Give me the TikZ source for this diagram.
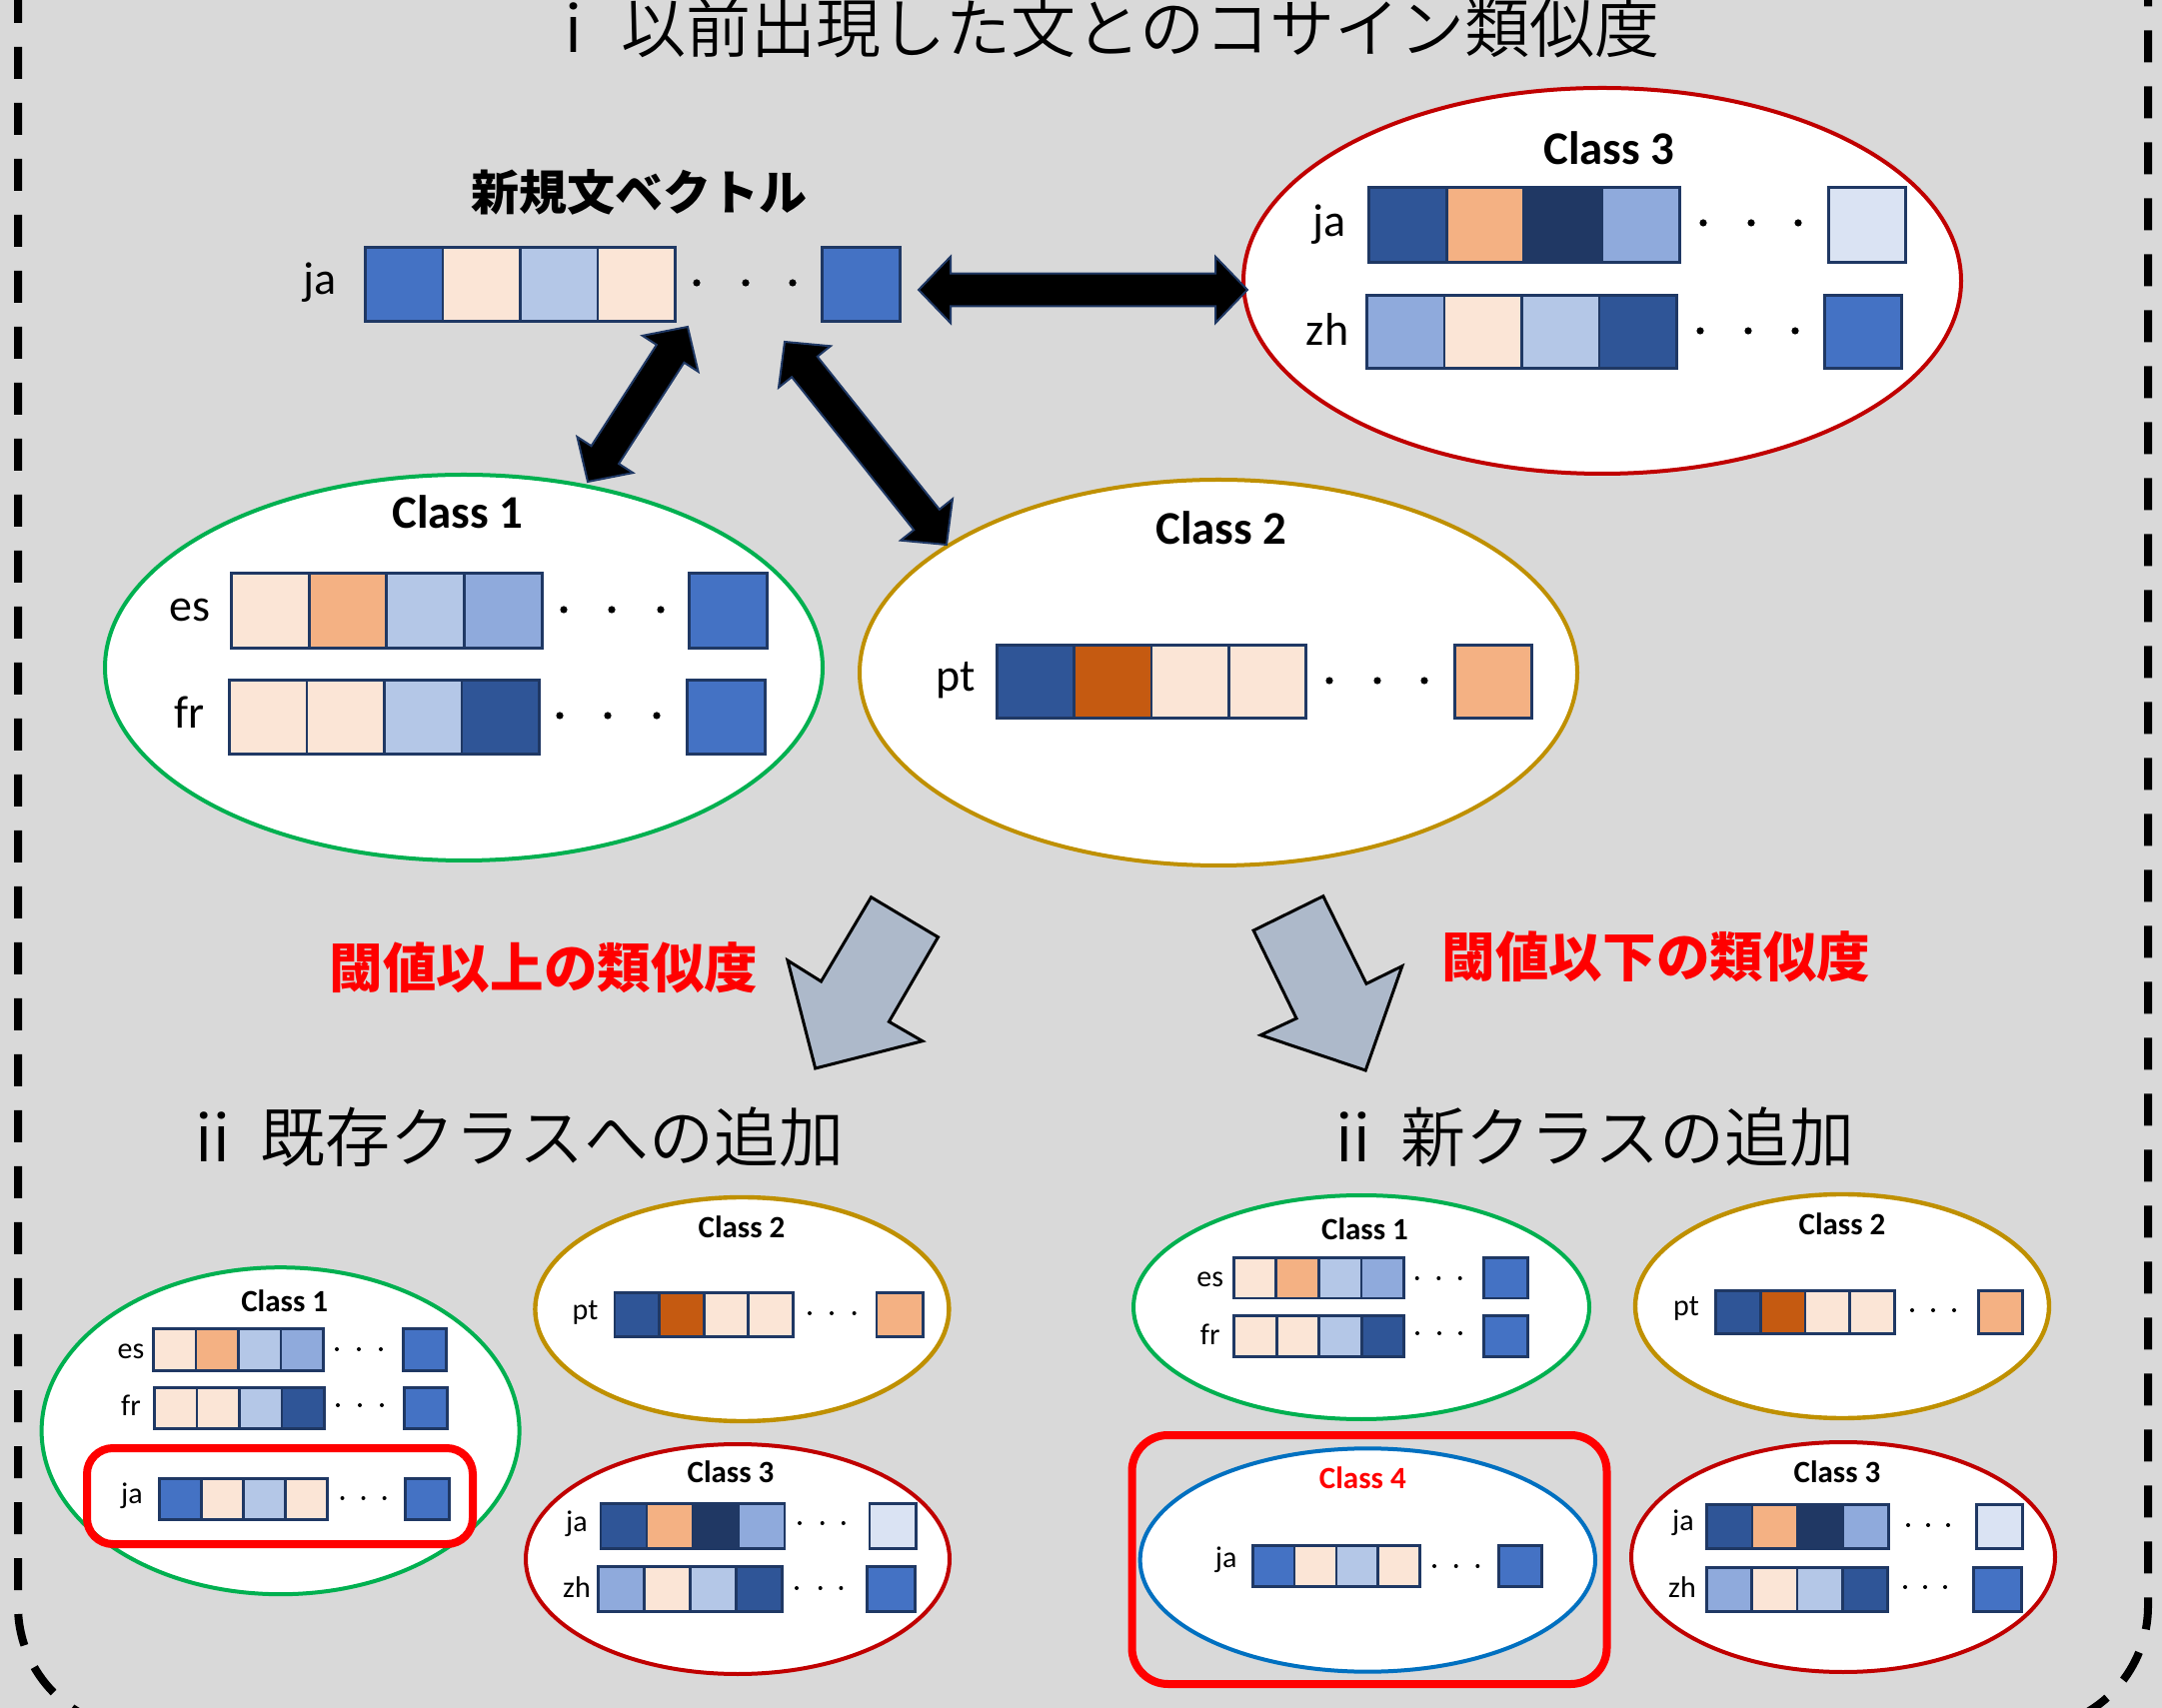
\documentclass[tikz,border=0pt]{standalone}
\usepackage{fontspec}
\setmainfont{Carlito}
\newfontfamily\jp{Noto Sans CJK JP}
\newfontfamily\jpl{Noto Sans CJK JP DemiLight}
\usetikzlibrary{calc,shapes.geometric}
\definecolor{bg}{HTML}{D9D9D9}
\definecolor{cellline}{HTML}{1F3864}
\definecolor{cpeach}{HTML}{FBE5D6}
\definecolor{corange}{HTML}{F4B183}
\definecolor{clblue}{HTML}{B4C7E7}
\definecolor{cmblue}{HTML}{8FAADC}
\definecolor{cblue}{HTML}{4472C4}
\definecolor{cdblue}{HTML}{2F5597}
\definecolor{cnavy}{HTML}{203864}
\definecolor{cpale}{HTML}{DAE3F3}
\definecolor{cbrown}{HTML}{C55A11}
\definecolor{cgreen}{HTML}{00B050}
\definecolor{cgold}{HTML}{BF9000}
\definecolor{cdred}{HTML}{C00000}
\definecolor{cblue4}{HTML}{0070C0}
\definecolor{cred}{HTML}{FF0000}
\definecolor{cgrayarrow}{HTML}{ADB9CA}
\definecolor{arrowline}{HTML}{1F3864}
\newcommand\arrhl{8pt}
\newcommand\arrhw{8.3pt}
\newcommand\arrsw{4.1pt}
\newcommand\dblarrow[2]{%
  \coordinate (h1) at ($(#1)!\arrhl!(#2)$);
  \coordinate (h2) at ($(#2)!\arrhl!(#1)$);
  \filldraw[fill=black, draw=arrowline, line width=0.5pt, line join=miter]
   (#1) -- ($(h1)!\arrhw!90:(#2)$) -- ($(h1)!\arrsw!90:(#2)$) -- ($(h2)!\arrsw!-90:(#1)$)
   -- ($(h2)!\arrhw!-90:(#1)$) -- (#2) -- ($(h2)!\arrhw!90:(#1)$) -- ($(h2)!\arrsw!90:(#1)$)
   -- ($(h1)!\arrsw!-90:(#2)$) -- ($(h1)!\arrhw!-90:(#2)$) -- cycle;}
\newcommand\vcells[6]{%
  \foreach \clr [count=\i] in {#6}{%
    \node[cell, fill=\clr, minimum width={#4*0.25pt}, minimum height={#5*0.25pt}, anchor=north west] (#1-\i) at ({#2+(\i-1)*#4},#3) {};
  }}
\newcommand\vlast[6]{\node[cell, fill=#6, minimum width={#4*0.25pt}, minimum height={#5*0.25pt}, anchor=north west] (#1) at (#2,#3) {};}
\newcommand\tdots[5]{\foreach \xx in {#1,#2,#3} {\fill (\xx,#4) circle[radius=#5pt];}}
\tikzset{
  cell/.style={draw=cellline, line width=0.7pt, inner sep=0pt, rectangle},
  cls/.style={ellipse, draw, fill=white, line width=1pt, inner sep=0pt},
  lab/.style={font=\fontsize{11.5}{13}\selectfont, inner sep=0pt},
  slab/.style={font=\fontsize{7.5}{9}\selectfont, inner sep=0pt},
  ttl/.style={font=\bfseries\fontsize{11.7}{13}\selectfont, inner sep=0pt},
  sttl/.style={font=\bfseries\fontsize{7.75}{9}\selectfont, inner sep=0pt},
  head/.style={font=\jpl\fontsize{16.25}{19}\selectfont, inner sep=0pt},
  redlab/.style={font=\jp\bfseries\fontsize{13.4}{16}\selectfont, text=cred, inner sep=0pt},
  bigarrow/.style={fill=cgrayarrow, draw=black, line width=0.75pt, line join=miter},
  redbox/.style={draw=cred, line width=2pt},
}
\begin{document}
\begin{tikzpicture}[x=0.25pt, y=-0.25pt]
\useasboundingbox (0,0) rectangle (2163,1709);
\fill[bg] (0,0) rectangle (2163,1709);
\begin{scope}
\clip (0,0) rectangle (2163,1709);
\draw[line width=2pt, dash pattern=on 8pt off 6pt, rounded corners=30.75pt] (18,-300) rectangle (2149,1730);
\end{scope}

% title
\node[head, anchor=west] (title) at (541,28) {ⅰ 以前出現した文とのコサイン類似度};

% new vector
\node[font=\jp\bfseries\fontsize{12}{14}\selectfont, inner sep=0pt] (nvt) at (639,192) {新規文ベクトル};
\node[lab] (nvl) at (320,283) {ja};
\vcells{nv}{364}{246}{77.5}{74}{cblue,cpeach,clblue,cpeach}
\tdots{697}{746}{793}{283}{0.9}
\vlast{nv-last}{821}{246}{78}{74}{cblue}

% big class ellipses
\node[cls, draw=cdred, minimum width={718*0.25pt}, minimum height={386*0.25pt}] (c3big) at (1603,281) {};
\node[cls, draw=cgreen, minimum width={718*0.25pt}, minimum height={386*0.25pt}] (c1big) at (464,668) {};
\node[cls, draw=cgold, minimum width={718*0.25pt}, minimum height={386*0.25pt}] (c2big) at (1219,673) {};

% class 3 big
\node[ttl] (c3t) at (1610,148) {Class 3};
\node[lab] (c3ja) at (1330,225) {ja};
\vcells{c3a}{1368}{186}{77.7}{75}{cdblue,corange,cnavy,cmblue}
\tdots{1704}{1752}{1799}{223}{0.9}
\vlast{c3a-last}{1828}{186}{77}{75}{cpale}
\node[lab] (c3zh) at (1328,330) {zh};
\vcells{c3b}{1366}{294}{77.5}{73}{cmblue,cpeach,clblue,cdblue}
\tdots{1701}{1749}{1796}{331}{0.9}
\vlast{c3b-last}{1824}{294}{77}{73}{cblue}

% class 1 big
\node[ttl] (c1t) at (458,512) {Class 1};
\node[lab] (c1es) at (190,611) {es};
\vcells{c1a}{230}{572}{77.7}{75}{cpeach,corange,clblue,cmblue}
\tdots{564}{612}{661}{610}{0.9}
\vlast{c1a-last}{688}{572}{78}{75}{cblue}
\node[lab] (c1fr) at (190,713) {fr};
\vcells{c1b}{228}{679}{77.5}{74}{cpeach,cpeach,clblue,cdblue}
\tdots{560}{608}{657}{716}{0.9}
\vlast{c1b-last}{686}{679}{78}{74}{cblue}

% class 2 big
\node[ttl] (c2t) at (1222,528) {Class 2};
\node[lab] (c2pt) at (956,681) {pt};
\vcells{c2a}{996}{644}{77.3}{73}{cdblue,cbrown,cpeach,cpeach}
\tdots{1330}{1378}{1425}{681}{0.9}
\vlast{c2a-last}{1454}{644}{77}{73}{corange}

% double arrows
\coordinate (ahl) at (919,290);
\coordinate (ahr) at (1248,290);
\coordinate (ad1a) at (688,327);
\coordinate (ad1b) at (588,482);
\coordinate (ad2a) at (785,342);
\coordinate (ad2b) at (947,545);
\dblarrow{ahl}{ahr}
\dblarrow{ad1a}{ad1b}
\dblarrow{ad2a}{ad2b}

% gray arrows
\filldraw[bigarrow] (871.5,897.7) -- (938.5,937.7) -- (889.4,1022.3) -- (922.9,1041.7) -- (815.7,1069) -- (788,961) -- (821.5,982) -- cycle;
\filldraw[bigarrow] (1323.8,896.7) -- (1254.1,931) -- (1297,1019) -- (1261.3,1035.7) -- (1366.2,1071) -- (1402.8,966.7) -- (1367,984.3) -- cycle;

\node[redlab] (thr1) at (544,968) {閾値以上の類似度};
\node[redlab] (thr2) at (1657,957) {閾値以下の類似度};

\node[head, anchor=west] (h2a) at (180,1138) {ⅱ 既存クラスへの追加};
\node[head, anchor=west] (h2b) at (1321,1138) {ⅱ 新クラスの追加};

% ---------- bottom left ----------
\node[cls, draw=cgreen, minimum width={478*0.25pt}, minimum height={327*0.25pt}] (bl1) at (280.6,1431.7) {};
\node[sttl] (bl1t) at (284.7,1301.7) {Class 1};
\node[slab] (bl1es) at (131,1352) {es};
\vcells{bl1a}{152}{1328}{42.5}{42}{cpeach,corange,clblue,cmblue}
\tdots{337}{359}{381}{1350}{0.5}
\vlast{bl1a-last}{402}{1328}{43}{42}{cblue}
\node[slab] (bl1fr) at (131,1406) {fr};
\vcells{bl1b}{153}{1387}{42.5}{41}{cpeach,cpeach,clblue,cdblue}
\tdots{338}{360}{382}{1406}{0.5}
\vlast{bl1b-last}{403}{1387}{43}{41}{cblue}
\draw[redbox, rounded corners=6.5pt] (87,1449) rectangle (473,1545);
\node[slab] (bl1ja) at (132,1497) {ja};
\vcells{bl1c}{158}{1478}{42.1}{41}{cblue,cpeach,clblue,cpeach}
\tdots{342.5}{363.5}{384.6}{1499}{0.5}
\vlast{bl1c-last}{404}{1478}{44}{41}{cblue}

\node[cls, draw=cgold, line width=1.1pt, minimum width={414*0.25pt}, minimum height={224*0.25pt}] (bl2) at (742.4,1310) {};
\node[sttl] (bl2t) at (742,1228) {Class 2};
\node[slab] (bl2pt) at (585.5,1313) {pt};
\vcells{bl2a}{613.5}{1292}{44.6}{44}{cdblue,cbrown,cpeach,cpeach}
\tdots{810}{832}{854.6}{1314}{0.5}
\vlast{bl2a-last}{875.6}{1292}{46.6}{44}{corange}

\node[cls, draw=cdred, minimum width={424*0.25pt}, minimum height={230*0.25pt}] (bl3) at (738,1560) {};
\node[sttl] (bl3t) at (731,1473) {Class 3};
\node[slab] (bl3ja) at (577,1525) {ja};
\vcells{bl3a}{599.5}{1503}{46}{45}{cdblue,corange,cnavy,cmblue}
\tdots{800}{822.7}{843.8}{1524}{0.5}
\vlast{bl3a-last}{868.6}{1503}{46.6}{45}{cpale}
\node[slab] (bl3zh) at (577,1588) {zh};
\vcells{bl3b}{597}{1566}{46}{45}{cmblue,cpeach,clblue,cdblue}
\tdots{797}{820.7}{841.4}{1589}{0.5}
\vlast{bl3b-last}{866}{1566}{48}{45}{cblue}

% ---------- bottom right ----------
\node[cls, draw=cgreen, minimum width={456*0.25pt}, minimum height={224*0.25pt}] (br1) at (1362,1308) {};
\node[sttl] (br1t) at (1365.5,1230) {Class 1};
\node[slab] (br1es) at (1210.7,1280) {es};
\vcells{br1a}{1232.7}{1257}{42.65}{40.6}{cpeach,corange,clblue,cmblue}
\tdots{1417.7}{1439.3}{1460.7}{1279}{0.5}
\vlast{br1a-last}{1482.7}{1257}{44}{40.6}{cblue}
\node[slab] (br1fr) at (1210.7,1335) {fr};
\vcells{br1b}{1233.3}{1315}{42.5}{41}{cpeach,cpeach,clblue,cdblue}
\tdots{1418}{1440}{1461}{1334}{0.5}
\vlast{br1b-last}{1483.3}{1315}{44}{41}{cblue}

\draw[redbox, rounded corners=9pt] (1132.5,1436) rectangle (1607.5,1685);
\node[cls, draw=cblue4, minimum width={455.4*0.25pt}, minimum height={223.4*0.25pt}] (br4) at (1368.3,1561) {};
\node[sttl, text=cred] (br4t) at (1363.3,1478.3) {Class 4};
\node[slab] (br4ja) at (1226.7,1561) {ja};
\vcells{br4a}{1251.7}{1545}{41.9}{41}{cblue,cpeach,clblue,cpeach}
\tdots{1435}{1456.7}{1478.3}{1567}{0.5}
\vlast{br4a-last}{1497.7}{1545}{43.3}{41}{cblue}

\node[cls, draw=cgold, line width=1.1pt, minimum width={414*0.25pt}, minimum height={224*0.25pt}] (br2) at (1843,1307) {};
\node[sttl] (br2t) at (1843,1225) {Class 2};
\node[slab] (br2pt) at (1687,1309) {pt};
\vcells{br2a}{1715}{1290}{44.75}{43}{cdblue,cbrown,cpeach,cpeach}
\tdots{1913}{1934}{1955}{1311}{0.5}
\vlast{br2a-last}{1978}{1290}{44}{43}{corange}

\node[cls, draw=cdred, minimum width={424*0.25pt}, minimum height={230*0.25pt}] (br3) at (1844,1558) {};
\node[sttl] (br3t) at (1838,1473) {Class 3};
\node[slab] (br3ja) at (1684,1524) {ja};
\vcells{br3a}{1706}{1504}{45.5}{44}{cdblue,corange,cnavy,cmblue}
\tdots{1909}{1929}{1949}{1526}{0.5}
\vlast{br3a-last}{1975.7}{1504}{46.6}{44}{cpale}
\node[slab] (br3zh) at (1683,1588) {zh};
\vcells{br3b}{1706}{1566.7}{45.25}{44.3}{cmblue,cpeach,clblue,cdblue}
\tdots{1906}{1926}{1946}{1588}{0.5}
\vlast{br3b-last}{1973.3}{1566.7}{47.4}{44.3}{cblue}
\end{tikzpicture}
\end{document}
